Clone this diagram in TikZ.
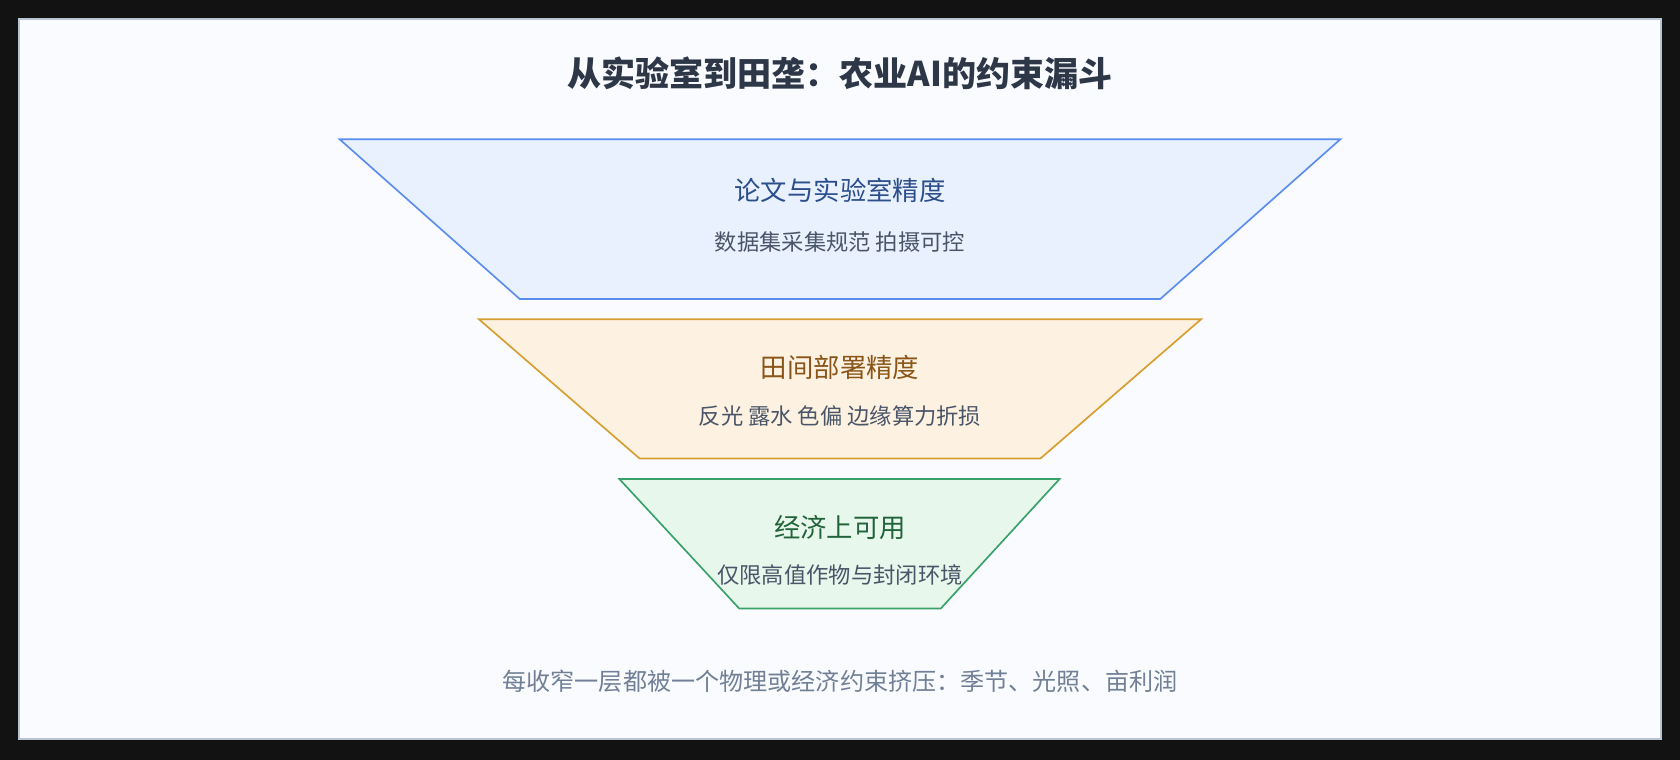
\documentclass[tikz,border=0pt]{standalone}
\usepackage{fontspec}
\setmainfont{Noto Sans CJK SC}
\usepackage{tikz}
\usetikzlibrary{positioning}
\definecolor{panelbg}{HTML}{F9FBFE}
\definecolor{panelline}{HTML}{B8C3D3}
\definecolor{titlecol}{HTML}{2D3748}
\definecolor{subcol}{HTML}{4A5568}
\definecolor{footcol}{HTML}{718096}
\definecolor{labfill}{HTML}{E8F1FD}
\definecolor{labline}{HTML}{5B8DEF}
\definecolor{labtext}{HTML}{2C4E8C}
\definecolor{fieldfill}{HTML}{FDF2E2}
\definecolor{fieldline}{HTML}{D69E2E}
\definecolor{fieldtext}{HTML}{8A5518}
\definecolor{econfill}{HTML}{E8F7EC}
\definecolor{econline}{HTML}{38A169}
\definecolor{econtext}{HTML}{22643A}

\begin{document}
\begin{tikzpicture}[x=0.025cm, y=-0.025cm,
layer/.style={line width=1.1pt, line join=miter},
stagehead/.style={font=\fontsize{17.5}{21}\selectfont},
stagesub/.style={font=\fontsize{14.8}{18}\selectfont, text=subcol}
]
\useasboundingbox (0,0) rectangle (1568,709);
\fill[black!93] (0,0) rectangle (1568,709);
\draw[fill=panelbg, draw=panelline, line width=1.2pt] (18,18) rectangle (1550,690);

\node[font=\bfseries\fontsize{22.6}{27}\selectfont, text=titlecol] (title) at (784,68)
    {从实验室到田垄：农业AI的约束漏斗};

% funnel layers
\draw[layer, fill=labfill, draw=labline] (317,130) -- (1251,130) -- (1083,279) -- (485,279) -- cycle;
\node[stagehead, text=labtext] (lab) at (784,178) {论文与实验室精度};
\node[stagesub] (labsub) at (784,226) {数据集采集规范 拍摄可控};

\draw[layer, fill=fieldfill, draw=fieldline] (447,298) -- (1121,298) -- (971,428) -- (597,428) -- cycle;
\node[stagehead, text=fieldtext] (field) at (784,343) {田间部署精度};
\node[stagesub] (fieldsub) at (784,388) {反光 露水 色偏 边缘算力折损};

\draw[layer, fill=econfill, draw=econline] (578,447) -- (989,447) -- (878,568) -- (690,568) -- cycle;
\node[stagehead, text=econtext] (econ) at (784,492) {经济上可用};
\node[stagesub] (econsub) at (784,537) {仅限高值作物与封闭环境};

\node[font=\fontsize{16}{19}\selectfont, text=footcol] (foot) at (784,636)
    {每收窄一层都被一个物理或经济约束挤压：季节、光照、亩利润};
\end{tikzpicture}
\end{document}
